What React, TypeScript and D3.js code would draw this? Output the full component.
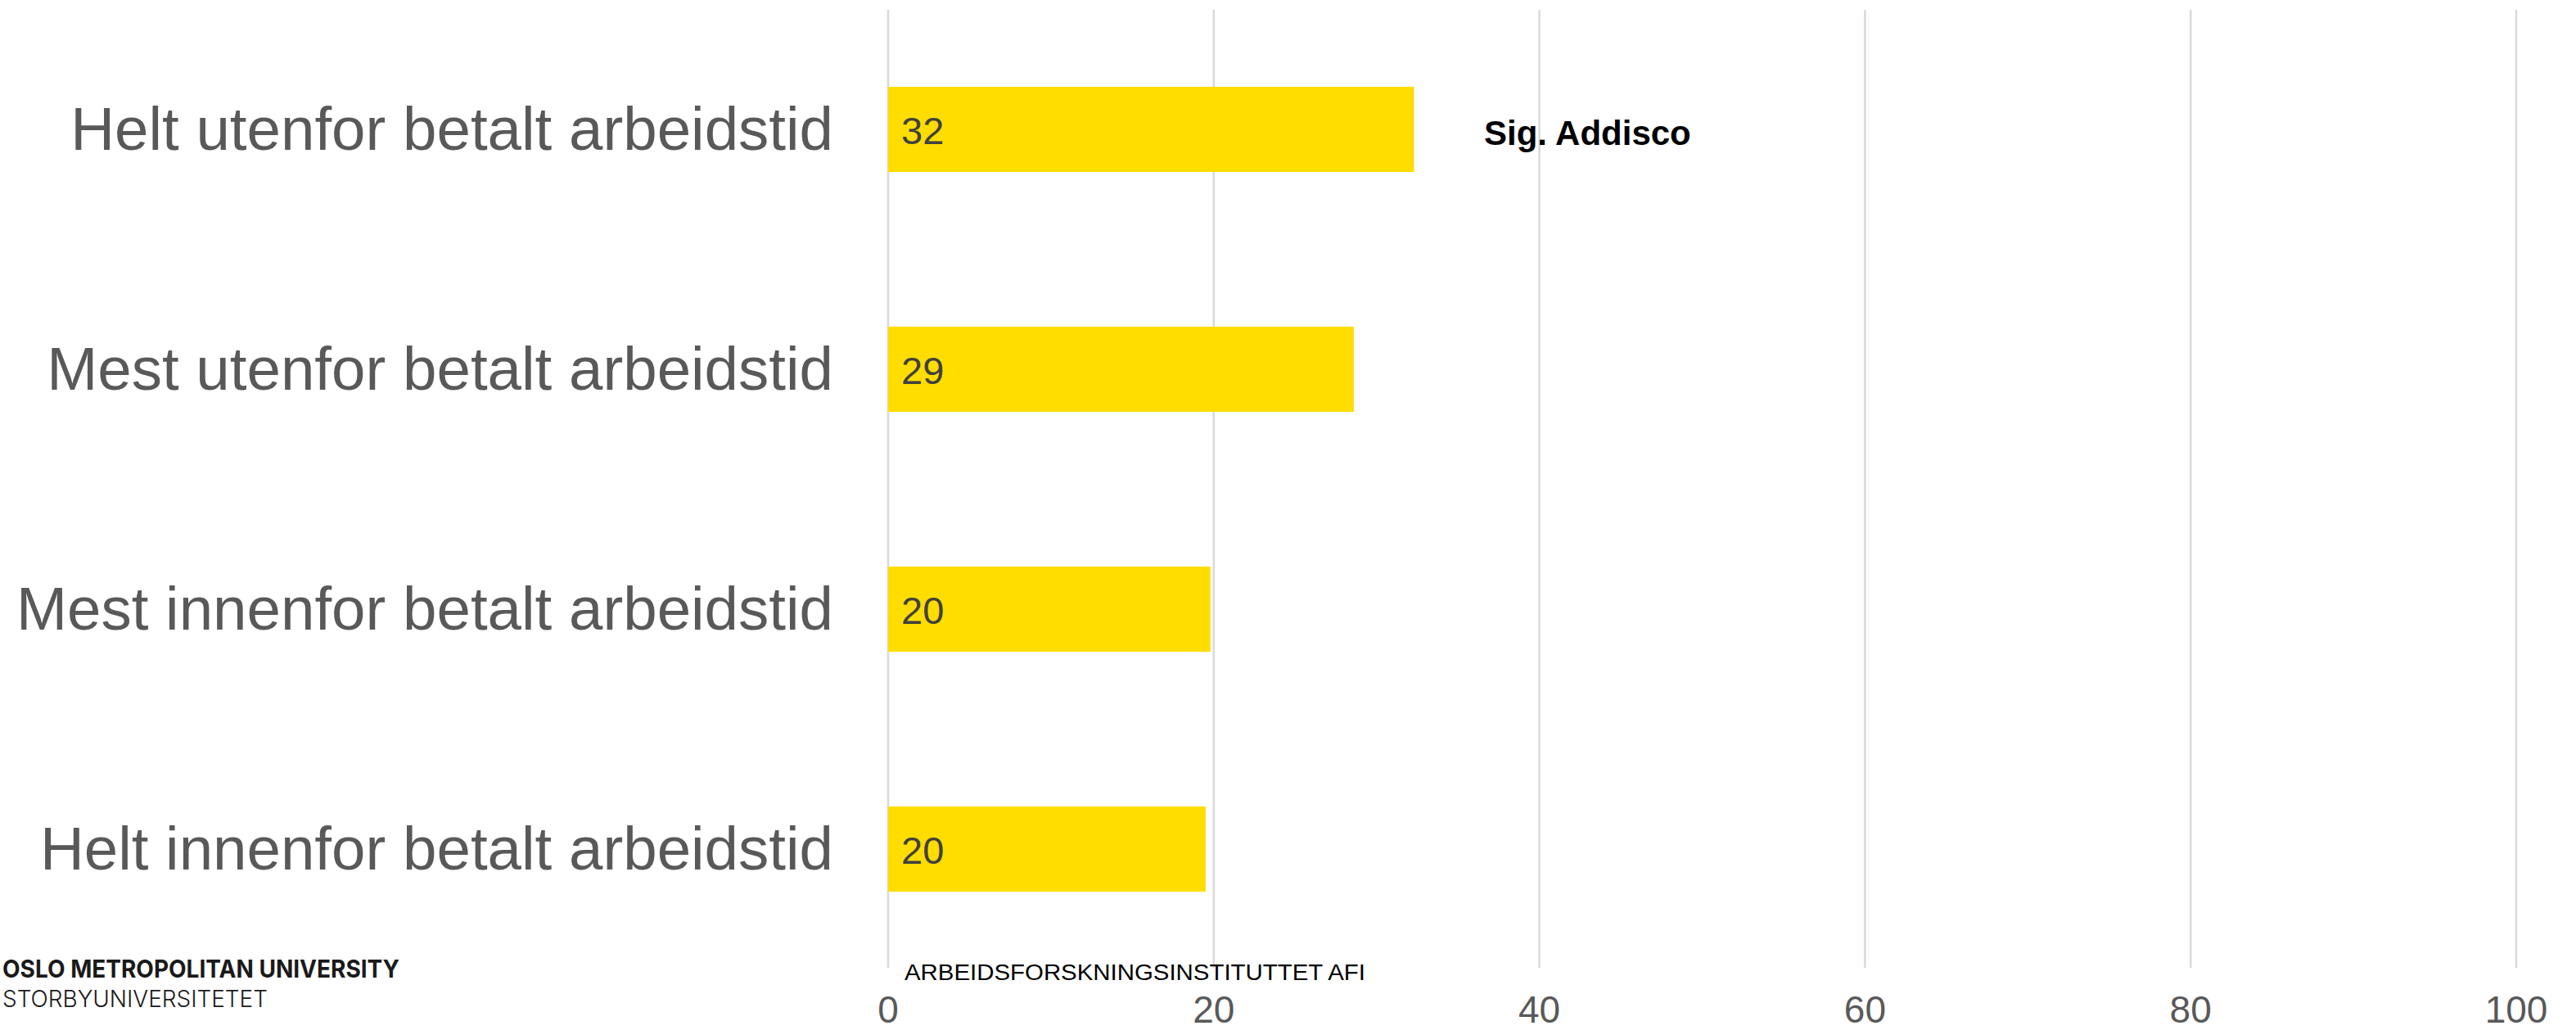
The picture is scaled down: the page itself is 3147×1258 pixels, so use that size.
import React from "react";
import * as d3 from "d3";

const categories = [
  "Helt utenfor betalt arbeidstid",
  "Mest utenfor betalt arbeidstid",
  "Mest innenfor betalt arbeidstid",
  "Helt innenfor betalt arbeidstid",
];
const values = [32.3, 28.6, 19.8, 19.5];
const xTicks = [0, 20, 40, 60, 80, 100];
const annotation = "Sig. Addisco";
const annotationAt = 36.6;
const sourceText = "ARBEIDSFORSKNINGSINSTITUTTET AFI";
const logoLine1 = "OSLO METROPOLITAN UNIVERSITY";
const logoLine2 = "STORBYUNIVERSITETET";

const W = 3147;
const H = 1258;

export default function App() {
  const x = d3.scaleLinear().domain([0, 100]).range([1085, 3074]);
  const y = d3
    .scaleBand<string>()
    .domain(categories)
    .range([11.5, 1183.5])
    .paddingInner(0.645)
    .paddingOuter(0.3225);
  const bw = y.bandwidth();
  const font = "'Liberation Sans', Arial, sans-serif";

  return (
    <svg
      width={W}
      height={H}
      style={{ position: "absolute", left: 0, top: 0, background: "#fff" }}
    >
      {xTicks.map((t) => (
        <line
          key={"g" + t}
          x1={x(t)}
          x2={x(t)}
          y1={12}
          y2={1182}
          stroke="#d9d9d9"
          strokeWidth={2.5}
        />
      ))}
      {categories.map((c, i) => {
        const yc = (y(c) as number) + bw / 2;
        return (
          <g key={c}>
            <rect
              x={x(0)}
              y={y(c)}
              width={x(values[i]) - x(0)}
              height={bw}
              fill="#FFDD00"
            />
            <text
              x={x(0) + 16}
              y={yc + 18}
              fontFamily={font}
              fontSize={47}
              fill="#404040"
            >
              {Math.round(values[i])}
            </text>
            <text
              x={1018}
              y={yc + 25}
              textAnchor="end"
              fontFamily={font}
              fontSize={74.5}
              fill="#595959"
            >
              {c}
            </text>
          </g>
        );
      })}
      <text
        x={x(annotationAt)}
        y={177}
        fontFamily={font}
        fontSize={42}
        fontWeight="bold"
        fill="#000"
      >
        {annotation}
      </text>
      {xTicks.map((t) => (
        <text
          key={"t" + t}
          x={x(t)}
          y={1249}
          textAnchor="middle"
          fontFamily={font}
          fontSize={46}
          fill="#595959"
        >
          {t}
        </text>
      ))}
      <text
        x={1105}
        y={1197}
        fontFamily={font}
        fontSize={27}
        fill="#000"
        textLength={563}
        lengthAdjust="spacingAndGlyphs"
      >
        {sourceText}
      </text>
      <text
        x={3}
        y={1194}
        fontFamily="Inter, 'Liberation Sans', sans-serif"
        fontSize={30}
        fontWeight={700}
        fill="#1a1a1a"
        textLength={485}
        lengthAdjust="spacingAndGlyphs"
      >
        {logoLine1}
      </text>
      <text
        x={3}
        y={1230}
        fontFamily="Inter, 'Liberation Sans', sans-serif"
        fontSize={29}
        fontWeight={300}
        fill="#1a1a1a"
        textLength={324}
        lengthAdjust="spacingAndGlyphs"
      >
        {logoLine2}
      </text>
    </svg>
  );
}
